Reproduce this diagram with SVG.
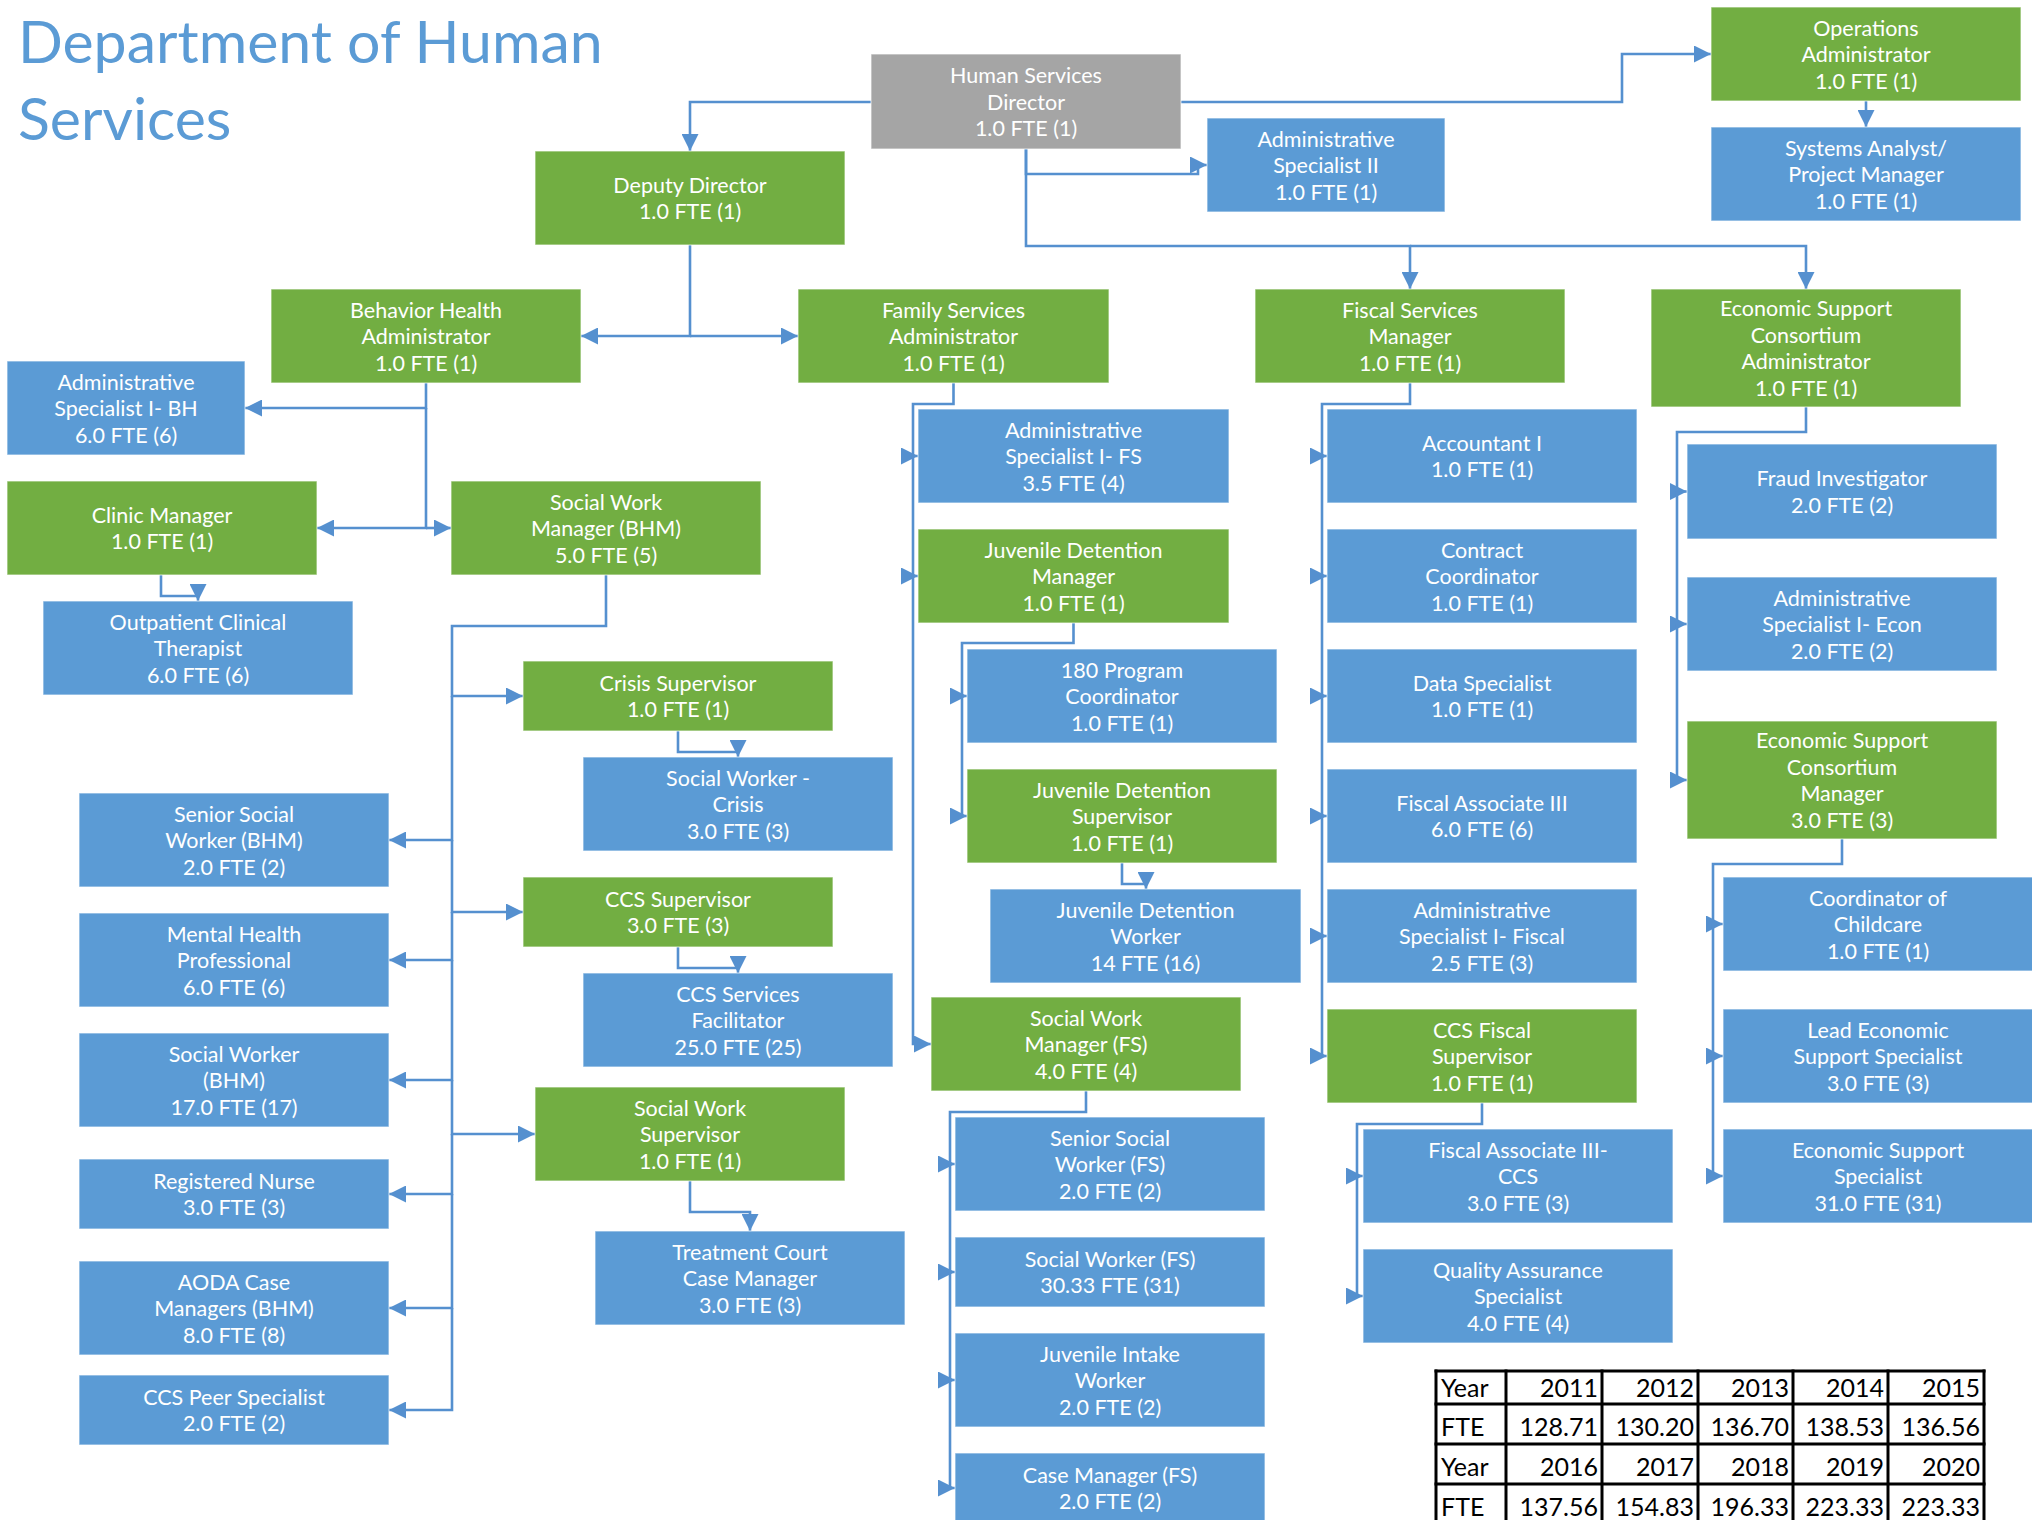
<svg xmlns="http://www.w3.org/2000/svg" width="2032" height="1520" viewBox="0 0 2032 1520">
<defs>
<marker id="a" markerUnits="userSpaceOnUse" markerWidth="17" markerHeight="17" viewBox="0 0 17 17" refX="17" refY="8.5" orient="auto"><path d="M0,0 L17,8.5 L0,17 z" fill="#5590CF"/></marker>
<style>
rect.n{stroke:#fff;stroke-opacity:.6;stroke-width:1.2}
.b{fill:#5B9BD5}.g{fill:#72AE42}.gr{fill:#A5A5A5}
.t{font-family:Lato,"Open Sans","Liberation Sans",sans-serif;font-size:21.5px;fill:#fff;text-anchor:middle}
.c path{fill:none;stroke:#5590CF;stroke-width:2.6;marker-end:url(#a)}
.title{font-family:Lato,"Open Sans","Liberation Sans",sans-serif;font-size:59px;fill:#5B9BD5}
.tb line{stroke:#000;stroke-width:3}
.tt{font-family:Lato,"Open Sans","Liberation Sans",sans-serif;font-size:25px;fill:#000}
.r{text-anchor:end}
</style>
</defs>
<rect width="2032" height="1520" fill="#fff"/>
<g id="title"><text class="title" x="18" y="63">Department of Human</text><text class="title" x="18" y="140">Services</text></g>

<g class="c" id="connectors">
<path d="M871,102 H690 V151"/>
<path d="M1181,102 H1622 V54 H1711"/>
<path d="M1026,149 V174 H1198 V165 H1207"/>
<path d="M1026,149 V246 H1410 V289"/>
<path d="M1410,246 H1806 V289"/>
<path d="M1866,101 V127"/>
<path d="M690,245 V336 H581"/>
<path d="M690,336 H798"/>
<path d="M426,383 V408 H245"/>
<path d="M426,408 V528 H317"/>
<path d="M426,528 H451"/>
<path d="M161,575 V596 H198 V601"/>
<path d="M606,575 V626 H452 V696 H523"/>
<path d="M452,696 V840 H389"/>
<path d="M452,840 V912 H523"/>
<path d="M452,912 V960 H389"/>
<path d="M452,960 V1080 H389"/>
<path d="M452,1080 V1134 H535"/>
<path d="M452,1134 V1194 H389"/>
<path d="M452,1194 V1308 H389"/>
<path d="M452,1308 V1410 H389"/>
<path d="M678,731 V752 H738 V757"/>
<path d="M678,947 V968 H738 V973"/>
<path d="M690,1181 V1212 H750 V1231"/>
<path d="M953.5,383 V404 H913 V456 H918"/>
<path d="M913,456 V576 H918"/>
<path d="M913,576 V1044 H931"/>
<path d="M1073.5,623 V643 H962 V696 H967"/>
<path d="M962,696 V816 H967"/>
<path d="M1122,863 V884 H1146 V889"/>
<path d="M1086,1091 V1112 H950 V1164 H955"/>
<path d="M950,1164 V1272 H955"/>
<path d="M950,1272 V1380 H955"/>
<path d="M950,1380 V1488 H955"/>
<path d="M1410,383 V404 H1322 V456 H1327"/>
<path d="M1322,456 V576 H1327"/>
<path d="M1322,576 V696 H1327"/>
<path d="M1322,696 V816 H1327"/>
<path d="M1322,816 V936 H1327"/>
<path d="M1322,936 V1056 H1327"/>
<path d="M1482,1103 V1124 H1357 V1176 H1363"/>
<path d="M1357,1176 V1296 H1363"/>
<path d="M1806,407 V432 H1677 V491.5 H1687"/>
<path d="M1677,491.5 V624 H1687"/>
<path d="M1677,624 V780 H1687"/>
<path d="M1842,839 V864 H1713 V924 H1723"/>
<path d="M1713,924 V1056 H1723"/>
<path d="M1713,1056 V1176 H1723"/>
</g>

<g id="n-dir"><rect class="n gr" x="871" y="54" width="310" height="95"/><text class="t"><tspan x="1026" y="83">Human Services</tspan><tspan x="1026" y="109.5">Director</tspan><tspan x="1026" y="136">1.0 FTE (1)</tspan></text></g>
<g id="n-dep"><rect class="n g" x="535" y="151" width="310" height="94"/><text class="t"><tspan x="690" y="192.75">Deputy Director</tspan><tspan x="690" y="219.25">1.0 FTE (1)</tspan></text></g>
<g id="n-as2"><rect class="n b" x="1207" y="118" width="238" height="94"/><text class="t"><tspan x="1326" y="146.5">Administrative</tspan><tspan x="1326" y="173">Specialist II</tspan><tspan x="1326" y="199.5">1.0 FTE (1)</tspan></text></g>
<g id="n-ops"><rect class="n g" x="1711" y="7" width="310" height="94"/><text class="t"><tspan x="1866" y="35.5">Operations</tspan><tspan x="1866" y="62">Administrator</tspan><tspan x="1866" y="88.5">1.0 FTE (1)</tspan></text></g>
<g id="n-sys"><rect class="n b" x="1711" y="127" width="310" height="94"/><text class="t"><tspan x="1866" y="155.5">Systems Analyst/</tspan><tspan x="1866" y="182">Project Manager</tspan><tspan x="1866" y="208.5">1.0 FTE (1)</tspan></text></g>
<g id="n-bha"><rect class="n g" x="271" y="289" width="310" height="94"/><text class="t"><tspan x="426" y="317.5">Behavior Health</tspan><tspan x="426" y="344">Administrator</tspan><tspan x="426" y="370.5">1.0 FTE (1)</tspan></text></g>
<g id="n-fsa"><rect class="n g" x="798" y="289" width="311" height="94"/><text class="t"><tspan x="953.5" y="317.5">Family Services</tspan><tspan x="953.5" y="344">Administrator</tspan><tspan x="953.5" y="370.5">1.0 FTE (1)</tspan></text></g>
<g id="n-fsm"><rect class="n g" x="1255" y="289" width="310" height="94"/><text class="t"><tspan x="1410" y="317.5">Fiscal Services</tspan><tspan x="1410" y="344">Manager</tspan><tspan x="1410" y="370.5">1.0 FTE (1)</tspan></text></g>
<g id="n-esa"><rect class="n g" x="1651" y="289" width="310" height="118"/><text class="t"><tspan x="1806" y="316.25">Economic Support</tspan><tspan x="1806" y="342.75">Consortium</tspan><tspan x="1806" y="369.25">Administrator</tspan><tspan x="1806" y="395.75">1.0 FTE (1)</tspan></text></g>
<g id="n-asbh"><rect class="n b" x="7" y="361" width="238" height="94"/><text class="t"><tspan x="126" y="389.5">Administrative</tspan><tspan x="126" y="416">Specialist I- BH</tspan><tspan x="126" y="442.5">6.0 FTE (6)</tspan></text></g>
<g id="n-clin"><rect class="n g" x="7" y="481" width="310" height="94"/><text class="t"><tspan x="162" y="522.75">Clinic Manager</tspan><tspan x="162" y="549.25">1.0 FTE (1)</tspan></text></g>
<g id="n-swmb"><rect class="n g" x="451" y="481" width="310" height="94"/><text class="t"><tspan x="606" y="509.5">Social Work</tspan><tspan x="606" y="536">Manager (BHM)</tspan><tspan x="606" y="562.5">5.0 FTE (5)</tspan></text></g>
<g id="n-opt"><rect class="n b" x="43" y="601" width="310" height="94"/><text class="t"><tspan x="198" y="629.5">Outpatient Clinical</tspan><tspan x="198" y="656">Therapist</tspan><tspan x="198" y="682.5">6.0 FTE (6)</tspan></text></g>
<g id="n-cris"><rect class="n g" x="523" y="661" width="310" height="70"/><text class="t"><tspan x="678" y="690.75">Crisis Supervisor</tspan><tspan x="678" y="717.25">1.0 FTE (1)</tspan></text></g>
<g id="n-swc"><rect class="n b" x="583" y="757" width="310" height="94"/><text class="t"><tspan x="738" y="785.5">Social Worker -</tspan><tspan x="738" y="812">Crisis</tspan><tspan x="738" y="838.5">3.0 FTE (3)</tspan></text></g>
<g id="n-ccss"><rect class="n g" x="523" y="877" width="310" height="70"/><text class="t"><tspan x="678" y="906.75">CCS Supervisor</tspan><tspan x="678" y="933.25">3.0 FTE (3)</tspan></text></g>
<g id="n-ccsf"><rect class="n b" x="583" y="973" width="310" height="94"/><text class="t"><tspan x="738" y="1001.5">CCS Services</tspan><tspan x="738" y="1028">Facilitator</tspan><tspan x="738" y="1054.5">25.0 FTE (25)</tspan></text></g>
<g id="n-sws"><rect class="n g" x="535" y="1087" width="310" height="94"/><text class="t"><tspan x="690" y="1115.5">Social Work</tspan><tspan x="690" y="1142">Supervisor</tspan><tspan x="690" y="1168.5">1.0 FTE (1)</tspan></text></g>
<g id="n-tc"><rect class="n b" x="595" y="1231" width="310" height="94"/><text class="t"><tspan x="750" y="1259.5">Treatment Court</tspan><tspan x="750" y="1286">Case Manager</tspan><tspan x="750" y="1312.5">3.0 FTE (3)</tspan></text></g>
<g id="n-ssb"><rect class="n b" x="79" y="793" width="310" height="94"/><text class="t"><tspan x="234" y="821.5">Senior Social</tspan><tspan x="234" y="848">Worker (BHM)</tspan><tspan x="234" y="874.5">2.0 FTE (2)</tspan></text></g>
<g id="n-mhp"><rect class="n b" x="79" y="913" width="310" height="94"/><text class="t"><tspan x="234" y="941.5">Mental Health</tspan><tspan x="234" y="968">Professional</tspan><tspan x="234" y="994.5">6.0 FTE (6)</tspan></text></g>
<g id="n-swb"><rect class="n b" x="79" y="1033" width="310" height="94"/><text class="t"><tspan x="234" y="1061.5">Social Worker</tspan><tspan x="234" y="1088">(BHM)</tspan><tspan x="234" y="1114.5">17.0 FTE (17)</tspan></text></g>
<g id="n-rn"><rect class="n b" x="79" y="1159" width="310" height="70"/><text class="t"><tspan x="234" y="1188.75">Registered Nurse</tspan><tspan x="234" y="1215.25">3.0 FTE (3)</tspan></text></g>
<g id="n-aoda"><rect class="n b" x="79" y="1261" width="310" height="94"/><text class="t"><tspan x="234" y="1289.5">AODA Case</tspan><tspan x="234" y="1316">Managers (BHM)</tspan><tspan x="234" y="1342.5">8.0 FTE (8)</tspan></text></g>
<g id="n-peer"><rect class="n b" x="79" y="1375" width="310" height="70"/><text class="t"><tspan x="234" y="1404.75">CCS Peer Specialist</tspan><tspan x="234" y="1431.25">2.0 FTE (2)</tspan></text></g>
<g id="n-asfs"><rect class="n b" x="918" y="409" width="311" height="94"/><text class="t"><tspan x="1073.5" y="437.5">Administrative</tspan><tspan x="1073.5" y="464">Specialist I- FS</tspan><tspan x="1073.5" y="490.5">3.5 FTE (4)</tspan></text></g>
<g id="n-jdm"><rect class="n g" x="918" y="529" width="311" height="94"/><text class="t"><tspan x="1073.5" y="557.5">Juvenile Detention</tspan><tspan x="1073.5" y="584">Manager</tspan><tspan x="1073.5" y="610.5">1.0 FTE (1)</tspan></text></g>
<g id="n-p180"><rect class="n b" x="967" y="649" width="310" height="94"/><text class="t"><tspan x="1122" y="677.5">180 Program</tspan><tspan x="1122" y="704">Coordinator</tspan><tspan x="1122" y="730.5">1.0 FTE (1)</tspan></text></g>
<g id="n-jds"><rect class="n g" x="967" y="769" width="310" height="94"/><text class="t"><tspan x="1122" y="797.5">Juvenile Detention</tspan><tspan x="1122" y="824">Supervisor</tspan><tspan x="1122" y="850.5">1.0 FTE (1)</tspan></text></g>
<g id="n-jdw"><rect class="n b" x="990" y="889" width="311" height="94"/><text class="t"><tspan x="1145.5" y="917.5">Juvenile Detention</tspan><tspan x="1145.5" y="944">Worker</tspan><tspan x="1145.5" y="970.5">14 FTE (16)</tspan></text></g>
<g id="n-swmf"><rect class="n g" x="931" y="997" width="310" height="94"/><text class="t"><tspan x="1086" y="1025.5">Social Work</tspan><tspan x="1086" y="1052">Manager (FS)</tspan><tspan x="1086" y="1078.5">4.0 FTE (4)</tspan></text></g>
<g id="n-ssf"><rect class="n b" x="955" y="1117" width="310" height="94"/><text class="t"><tspan x="1110" y="1145.5">Senior Social</tspan><tspan x="1110" y="1172">Worker (FS)</tspan><tspan x="1110" y="1198.5">2.0 FTE (2)</tspan></text></g>
<g id="n-swf"><rect class="n b" x="955" y="1237" width="310" height="70"/><text class="t"><tspan x="1110" y="1266.75">Social Worker (FS)</tspan><tspan x="1110" y="1293.25">30.33 FTE (31)</tspan></text></g>
<g id="n-jiw"><rect class="n b" x="955" y="1333" width="310" height="94"/><text class="t"><tspan x="1110" y="1361.5">Juvenile Intake</tspan><tspan x="1110" y="1388">Worker</tspan><tspan x="1110" y="1414.5">2.0 FTE (2)</tspan></text></g>
<g id="n-cmf"><rect class="n b" x="955" y="1453" width="310" height="70"/><text class="t"><tspan x="1110" y="1482.75">Case Manager (FS)</tspan><tspan x="1110" y="1509.25">2.0 FTE (2)</tspan></text></g>
<g id="n-acc"><rect class="n b" x="1327" y="409" width="310" height="94"/><text class="t"><tspan x="1482" y="450.75">Accountant I</tspan><tspan x="1482" y="477.25">1.0 FTE (1)</tspan></text></g>
<g id="n-cc"><rect class="n b" x="1327" y="529" width="310" height="94"/><text class="t"><tspan x="1482" y="557.5">Contract</tspan><tspan x="1482" y="584">Coordinator</tspan><tspan x="1482" y="610.5">1.0 FTE (1)</tspan></text></g>
<g id="n-ds"><rect class="n b" x="1327" y="649" width="310" height="94"/><text class="t"><tspan x="1482" y="690.75">Data Specialist</tspan><tspan x="1482" y="717.25">1.0 FTE (1)</tspan></text></g>
<g id="n-fa3"><rect class="n b" x="1327" y="769" width="310" height="94"/><text class="t"><tspan x="1482" y="810.75">Fiscal Associate III</tspan><tspan x="1482" y="837.25">6.0 FTE (6)</tspan></text></g>
<g id="n-asf"><rect class="n b" x="1327" y="889" width="310" height="94"/><text class="t"><tspan x="1482" y="917.5">Administrative</tspan><tspan x="1482" y="944">Specialist I- Fiscal</tspan><tspan x="1482" y="970.5">2.5 FTE (3)</tspan></text></g>
<g id="n-ccsfs"><rect class="n g" x="1327" y="1009" width="310" height="94"/><text class="t"><tspan x="1482" y="1037.5">CCS Fiscal</tspan><tspan x="1482" y="1064">Supervisor</tspan><tspan x="1482" y="1090.5">1.0 FTE (1)</tspan></text></g>
<g id="n-fa3c"><rect class="n b" x="1363" y="1129" width="310" height="94"/><text class="t"><tspan x="1518" y="1157.5">Fiscal Associate III-</tspan><tspan x="1518" y="1184">CCS</tspan><tspan x="1518" y="1210.5">3.0 FTE (3)</tspan></text></g>
<g id="n-qa"><rect class="n b" x="1363" y="1249" width="310" height="94"/><text class="t"><tspan x="1518" y="1277.5">Quality Assurance</tspan><tspan x="1518" y="1304">Specialist</tspan><tspan x="1518" y="1330.5">4.0 FTE (4)</tspan></text></g>
<g id="n-fraud"><rect class="n b" x="1687" y="444" width="310" height="95"/><text class="t"><tspan x="1842" y="486.25">Fraud Investigator</tspan><tspan x="1842" y="512.75">2.0 FTE (2)</tspan></text></g>
<g id="n-ase"><rect class="n b" x="1687" y="577" width="310" height="94"/><text class="t"><tspan x="1842" y="605.5">Administrative</tspan><tspan x="1842" y="632">Specialist I- Econ</tspan><tspan x="1842" y="658.5">2.0 FTE (2)</tspan></text></g>
<g id="n-escm"><rect class="n g" x="1687" y="721" width="310" height="118"/><text class="t"><tspan x="1842" y="748.25">Economic Support</tspan><tspan x="1842" y="774.75">Consortium</tspan><tspan x="1842" y="801.25">Manager</tspan><tspan x="1842" y="827.75">3.0 FTE (3)</tspan></text></g>
<g id="n-coc"><rect class="n b" x="1723" y="877" width="310" height="94"/><text class="t"><tspan x="1878" y="905.5">Coordinator of</tspan><tspan x="1878" y="932">Childcare</tspan><tspan x="1878" y="958.5">1.0 FTE (1)</tspan></text></g>
<g id="n-lead"><rect class="n b" x="1723" y="1009" width="310" height="94"/><text class="t"><tspan x="1878" y="1037.5">Lead Economic</tspan><tspan x="1878" y="1064">Support Specialist</tspan><tspan x="1878" y="1090.5">3.0 FTE (3)</tspan></text></g>
<g id="n-ess"><rect class="n b" x="1723" y="1129" width="310" height="94"/><text class="t"><tspan x="1878" y="1157.5">Economic Support</tspan><tspan x="1878" y="1184">Specialist</tspan><tspan x="1878" y="1210.5">31.0 FTE (31)</tspan></text></g>

<g id="fte-table">
<g class="tb">
<line x1="1434.5" y1="1371" x2="1985.5" y2="1371"/>
<line x1="1434.5" y1="1404" x2="1985.5" y2="1404"/>
<line x1="1434.5" y1="1444" x2="1985.5" y2="1444"/>
<line x1="1434.5" y1="1484" x2="1985.5" y2="1484"/>
<line x1="1434.5" y1="1524" x2="1985.5" y2="1524"/>
<line x1="1436" y1="1369.5" x2="1436" y2="1530"/>
<line x1="1506" y1="1369.5" x2="1506" y2="1530"/>
<line x1="1602" y1="1369.5" x2="1602" y2="1530"/>
<line x1="1698" y1="1369.5" x2="1698" y2="1530"/>
<line x1="1793" y1="1369.5" x2="1793" y2="1530"/>
<line x1="1888" y1="1369.5" x2="1888" y2="1530"/>
<line x1="1984" y1="1369.5" x2="1984" y2="1530"/>
</g>
<g class="tt">
<text x="1441" y="1397">Year</text><text class="r" x="1598" y="1397">2011</text><text class="r" x="1694" y="1397">2012</text><text class="r" x="1789" y="1397">2013</text><text class="r" x="1884" y="1397">2014</text><text class="r" x="1980" y="1397">2015</text>
<text x="1441" y="1436">FTE</text><text class="r" x="1598" y="1436">128.71</text><text class="r" x="1694" y="1436">130.20</text><text class="r" x="1789" y="1436">136.70</text><text class="r" x="1884" y="1436">138.53</text><text class="r" x="1980" y="1436">136.56</text>
<text x="1441" y="1476">Year</text><text class="r" x="1598" y="1476">2016</text><text class="r" x="1694" y="1476">2017</text><text class="r" x="1789" y="1476">2018</text><text class="r" x="1884" y="1476">2019</text><text class="r" x="1980" y="1476">2020</text>
<text x="1441" y="1516">FTE</text><text class="r" x="1598" y="1516">137.56</text><text class="r" x="1694" y="1516">154.83</text><text class="r" x="1789" y="1516">196.33</text><text class="r" x="1884" y="1516">223.33</text><text class="r" x="1980" y="1516">223.33</text>
</g>
</g>
</svg>
